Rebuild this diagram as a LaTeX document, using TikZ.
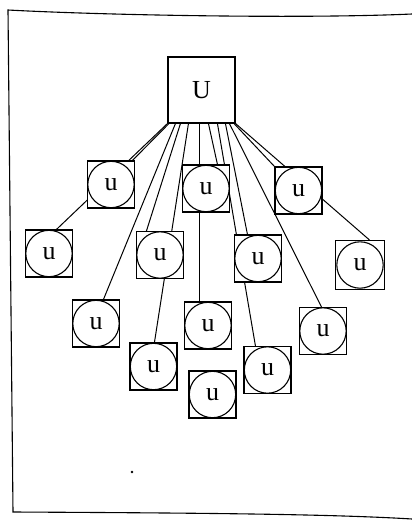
\documentclass[tikz,border=0pt]{standalone}
\usepackage{fontspec}
\setmainfont{Liberation Serif}
\usetikzlibrary{calc,backgrounds}
\tikzset{
  ubox/.style={draw, fill=white, line width=1.1pt, minimum size=47pt, inner sep=0pt,
    font=\fontsize{26}{30}\selectfont,
    path picture={\draw[line width=1.1pt] (path picture bounding box.center) circle (23.2pt);}},
  bigbox/.style={draw, fill=white, line width=1.1pt, minimum width=67pt, minimum height=66pt,
    inner sep=0pt, font=\fontsize{26}{30}\selectfont},
  link/.style={line width=1pt},
  paper/.style={line width=1.1pt}
}
\begin{document}
\begin{tikzpicture}[x=1pt,y=-1pt]
\useasboundingbox (0,0) rectangle (412,520);
% paper edge
\draw[paper] (412,14) .. controls (300,19) and (100,15) .. (8,10) -- (13,512)
  .. controls (200,513) and (330,514) .. (412,519);
\fill (132,472) circle (1.3pt);
% nodes
\node[bigbox] (U) at (201.5,90) {U};
\node[ubox] (A) at (111,184.5) {u};
\node[ubox] (B) at (206,188.5) {u};
\node[ubox] (C) at (298.5,190.5) {u};
\node[ubox] (D) at (49,253.5) {u};
\node[ubox] (E) at (160,255) {u};
\node[ubox] (F) at (258,258.5) {u};
\node[ubox, minimum size=49pt] (G) at (360,265) {u};
\node[ubox] (H) at (96,323.5) {u};
\node[ubox] (I) at (208,325.5) {u};
\node[ubox] (J) at (323,331) {u};
\node[ubox] (K) at (153.5,366.5) {u};
\node[ubox] (L) at (267.5,370) {u};
\node[ubox] (M) at (212.5,394.5) {u};
% connectors, behind the boxes
\begin{scope}[on background layer]
\draw[link] ($(U.south west)+(1.5,0)$) -- ($(A.north west)+(45.5,0)$);
\draw[link] (U.south west) -- ($(D.north west)+(31.5,0)$);
\draw[link] ($(U.south west)+(8,0)$) -- ($(H.north west)+(31.5,0)$);
\draw[link] ($(U.south west)+(13,0)$) -- ($(E.north west)+(10.5,0)$);
\draw[link] ($(U.south west)+(21,0)$) -- ($(K.north west)+(25,0)$);
\draw[link] ($(U.south west)+(32,0)$) -- ($(I.north west)+(15.5,0)$);
\draw[link] ($(U.south west)+(41,0)$) -- ($(B.north west)+(35.5,0)$);
\draw[link] ($(U.south west)+(50,0)$) -- ($(L.north west)+(12,0)$);
\draw[link] ($(U.south west)+(58,0)$) -- ($(F.north west)+(13.5,0)$);
\draw[link] ($(U.south west)+(62,0)$) -- ($(J.north west)+(22.5,0)$);
\draw[link] ($(U.south east)+(-1.5,0)$) -- (C.north west);
\draw[link] (U.south east) -- ($(G.north west)+(34.5,0)$);
\end{scope}
\end{tikzpicture}
\end{document}
